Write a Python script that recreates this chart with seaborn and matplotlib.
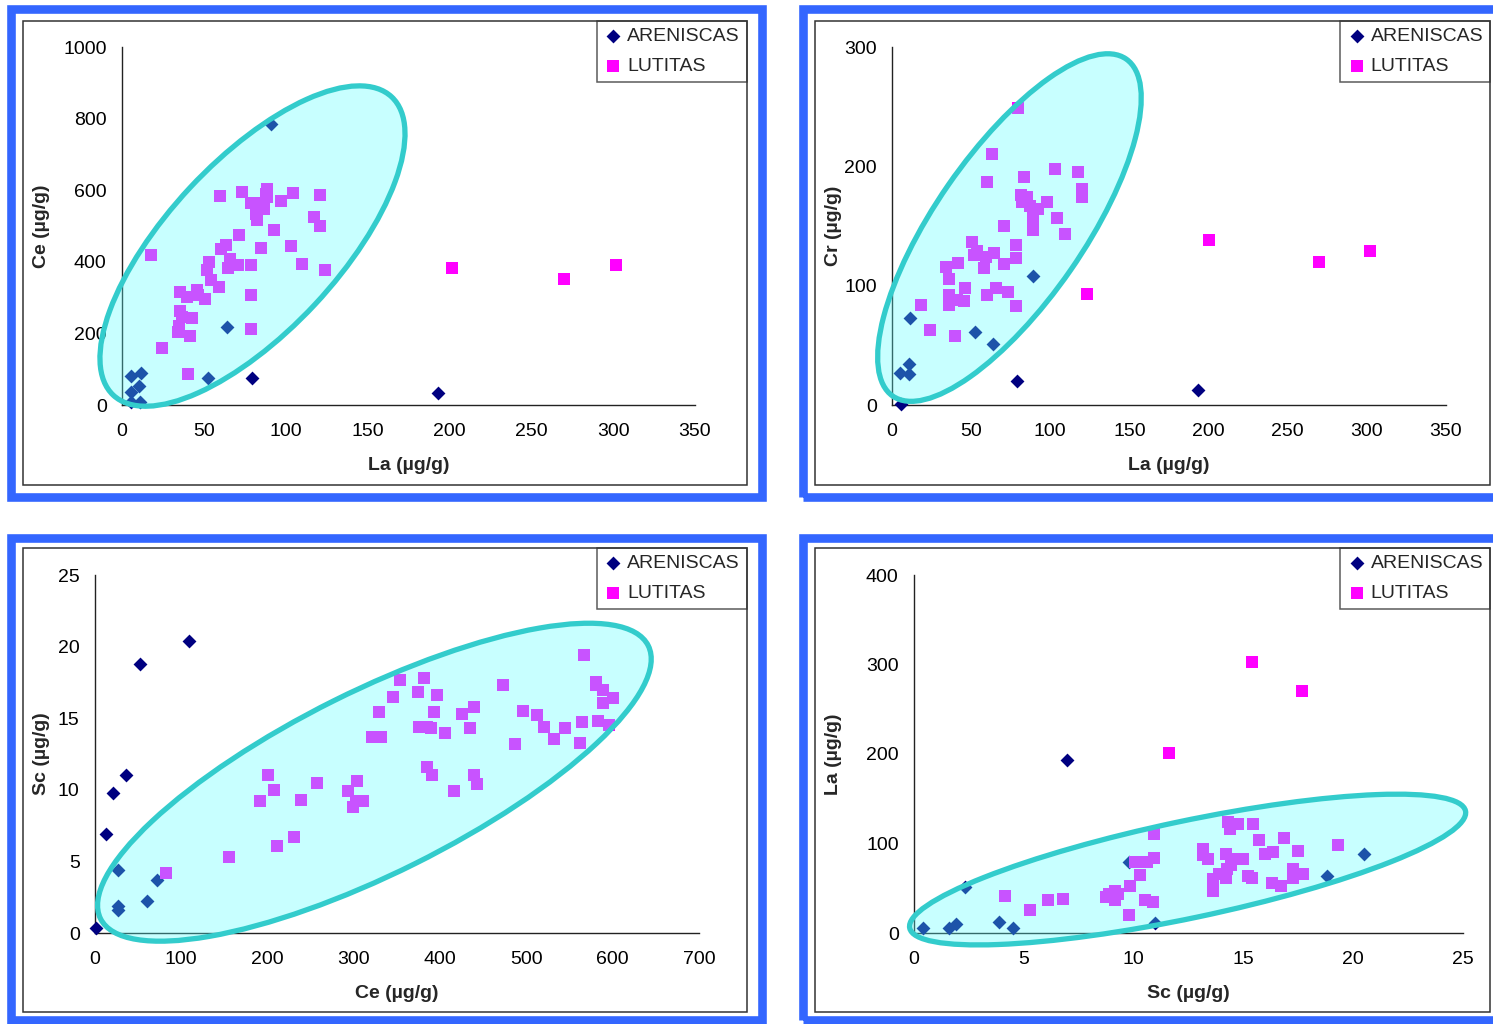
import numpy as np
import pandas as pd
import matplotlib
matplotlib.use("Agg")
import matplotlib.pyplot as plt
import matplotlib.transforms as mtransforms
from matplotlib.patches import Ellipse, Rectangle
import seaborn as sns

W, H = 1493, 1024

# ---- data: panel 1 (La vs Ce)
p1_aren_la = [5.7, 11.9, 10.5, 5.7, 5.7, 10.9, 52.5, 64.1, 79.5, 90.8, 193]
p1_aren_ce = [82, 89.5, 54, 35, 9, 9, 74.6, 217, 74.6, 786, 33.5]
p1_lut_la = [18.0, 60.0, 73.0, 88.7, 87.7, 88.7, 104.7, 120.7, 79.1, 83.6, 97.3, 82.0,
             82.6, 86.7, 117.0, 120.7, 92.6, 71.7, 63.7, 60.7, 84.6, 103.1, 66.2, 70.7,
             64.5, 78.9, 53.3, 51.8, 54.3, 59.0, 110.0, 124.2, 35.5, 39.5, 46.1, 46.7,
             50.8, 78.9, 35.5, 36.5, 42.6, 35.0, 34.4, 41.6, 78.9, 24.2, 40.2,
             201.6, 270, 301.7]
p1_lut_ce = [418, 584, 595, 604, 590, 581, 592, 587, 565, 565, 569, 534,
             516, 548, 525, 499, 488, 476, 446, 435, 439, 444, 408, 392,
             382, 390, 399, 376, 350, 331, 394, 378, 315, 301, 322, 308,
             297, 306, 262, 245, 242, 222, 203, 194, 211, 158, 87,
             383, 352, 391]

# ---- data: panel 2 (La vs Cr)
p2_aren_la = [11.2, 10.8, 5.3, 10.8, 5.5, 52.3, 63.9, 78.7, 89.2, 193.3]
p2_aren_cr = [72.7, 34.4, 26.9, 26, 0.8, 61, 51.2, 20.4, 108, 12.6]
p2_lut_la = [79.3, 63.3, 60.1, 83.5, 103, 117.7, 120, 120, 81.4, 85, 81.9, 87.1,
             92.4, 97.7, 88.8, 104, 70.9, 88.8, 109.3, 50.6, 78.3, 53.8, 51.9, 59.3,
             64.3, 78.3, 33.8, 41.8, 58, 70.7, 35.7, 46.4, 65.4, 73, 35.7, 35.7,
             41.1, 45.4, 60.1, 78.3, 18.6, 23.8, 40.1, 123, 200.3, 269.8, 302]
p2_lut_cr = [249, 210, 187, 191, 198, 195, 181, 174, 176, 174, 170, 167,
             164, 170, 157, 157, 150, 147, 143, 137, 134, 129, 126, 124,
             127, 123, 116, 119, 115, 118, 106, 98, 98, 95, 92, 84,
             88, 87, 92, 83, 84, 63, 58, 93.4, 138, 120, 129]

# ---- data: panel 3 (Ce vs Sc)
p3_aren_ce = [108.9, 52, 35.6, 20.9, 12.4, 26.7, 72.4, 60, 26.7, 26.7, 0.9]
p3_aren_sc = [20.4, 18.8, 11.0, 9.8, 6.9, 4.4, 3.7, 2.2, 1.9, 1.6, 0.35]
p3_lut_ce = [566.6, 580.9, 580.9, 588.9, 600, 588.9, 583, 595.5, 564.4, 562.2, 544.9,
             532.4, 520, 512, 495.5, 486.6, 472.4, 439.1, 425.8, 434.6, 405.8, 396.9,
             393.3, 388.9, 375.5, 384.4, 380.9, 374.2, 353.8, 345.3, 328.9, 320.9,
             331.1, 384.4, 391.1, 439.1, 443.1, 416, 303.5, 293.3, 302.2, 311.1,
             299.1, 257.8, 238.7, 200.9, 207.5, 190.7, 230.2, 211.5, 155.1, 82.7]
p3_lut_sc = [19.4, 17.5, 17.3, 17.0, 16.4, 16.05, 14.8, 14.5, 14.7, 13.3, 14.3,
             13.55, 14.4, 15.2, 15.5, 13.2, 17.3, 15.8, 15.3, 14.3, 14.0, 16.6,
             15.4, 14.3, 14.4, 14.4, 17.8, 16.8, 17.7, 16.5, 15.4, 13.7,
             13.7, 11.6, 11.0, 11.0, 10.4, 9.9, 10.6, 9.9, 9.2, 9.2,
             8.8, 10.5, 9.3, 11.0, 10.0, 9.2, 6.7, 6.05, 5.3, 4.2]

# ---- data: panel 4 (Sc vs La)
p4_aren_sc = [6.98, 20.5, 18.8, 9.8, 2.3, 0.4, 1.6, 1.9, 3.86, 4.5, 10.96]
p4_aren_la = [193.7, 88.8, 63.6, 78.8, 51.7, 5.2, 5.2, 10.4, 12.6, 5.2, 10.8]
p4_lut_sc = [15.37, 17.66, 11.6, 14.29, 14.77, 14.4, 15.45, 10.94, 15.7, 16.83, 19.3,
             17.5, 13.15, 13.15, 13.4, 14.2, 16.0, 16.35, 14.6, 15.0, 14.45, 14.25,
             13.9, 14.2, 13.6, 15.2, 15.4, 17.25, 17.25, 17.7, 16.3, 16.7, 13.6,
             10.94, 10.6, 10.06, 10.3, 9.82, 9.16, 9.16, 8.73, 10.5, 10.9, 9.8,
             6.77, 6.1, 5.3, 4.16, 9.3, 8.9]
p4_lut_la = [302.6, 270.6, 201.5, 124, 122, 116.7, 122, 111, 103.7, 105.6, 98,
             91.8, 93.7, 87, 82.5, 88.5, 88, 90, 82.5, 82.5, 75.8, 72,
             66, 61, 60.2, 64, 61, 72, 62, 66, 56, 53, 47,
             84, 78.8, 78.8, 64.7, 52.4, 47.2, 36.8, 39.8, 36.4, 34.2, 20.4,
             37.9, 36.4, 25.7, 41.6, 43.5, 43.5]

GROUPS = ["ARENISCAS", "LUTITAS"]
COLORS = {"ARENISCAS": "#000080", "LUTITAS": "#FF00FF"}
MARKERS = {"ARENISCAS": "D", "LUTITAS": "s"}
SIZES = {"ARENISCAS": 50, "LUTITAS": 72}

sns.set_style("white")
plt.rcParams["font.family"] = ["Liberation Sans", "DejaVu Sans"]
FS = 14

fig = plt.figure(figsize=(W / 100, H / 100), dpi=100)


def frac_rect(x0, y0, x1, y1):
    return (x0 / W, 1 - y1 / H, (x1 - x0) / W, (y1 - y0) / H)


def frame(x0, y0, x1, y1, color, lw):
    fig.add_artist(Rectangle(frac_rect(x0, y0, x1, y1)[:2], (x1 - x0) / W, (y1 - y0) / H,
                             transform=fig.transFigure, fill=False, ec=color, lw=lw))


def make_panel(box, frames, legend_corner, xcol, ycol, aren, lut, xlim, ylim, xticks, yticks,
               ell):
    x0, y0, x1, y1 = box
    # outer blue frame and inner black frame
    frame(*frames[0], "#3366FF", 6.2)
    frame(*frames[1], "#333333", 1.1)
    ax = fig.add_axes(frac_rect(x0, y0, x1, y1))
    ax.set_facecolor("none")
    df = pd.DataFrame({
        xcol: list(aren[0]) + list(lut[0]),
        ycol: list(aren[1]) + list(lut[1]),
        "tipo": ["ARENISCAS"] * len(aren[0]) + ["LUTITAS"] * len(lut[0]),
    })
    for g in GROUPS:
        sns.scatterplot(data=df[df["tipo"] == g], x=xcol, y=ycol, color=COLORS[g],
                        marker=MARKERS[g], s=SIZES[g], linewidth=0, label=g, ax=ax,
                        clip_on=False, zorder=3)
    # ellipse drawn in pixel units around a data-space centre
    cx, cy, ew, eh, ang = ell
    tr = fig.dpi_scale_trans + mtransforms.ScaledTranslation(cx, cy, ax.transData)
    ax.add_patch(Ellipse((0, 0), ew / 100, eh / 100, angle=ang, transform=tr,
                         facecolor=(0.35, 1, 1, 0.33), edgecolor="none", zorder=5,
                         clip_on=False))
    ax.add_patch(Ellipse((0, 0), ew / 100, eh / 100, angle=ang, transform=tr,
                         facecolor="none", edgecolor="#33CCCC", lw=3.8, zorder=6,
                         clip_on=False))
    ax.set_xlim(*xlim)
    ax.set_ylim(*ylim)
    ax.set_xticks(xticks)
    ax.set_yticks(yticks)
    for s in ["top", "right"]:
        ax.spines[s].set_visible(False)
    for s in ["left", "bottom"]:
        ax.spines[s].set_color("#222222")
        ax.spines[s].set_linewidth(1.0)
    ax.tick_params(axis="both", direction="out", length=4, width=1, color="#222222",
                   labelsize=FS, labelcolor="black")
    ax.tick_params(axis="x", pad=9)
    ax.tick_params(axis="y", pad=7)
    ax.set_xlabel(f"{xcol} (µg/g)", fontsize=FS, fontweight="bold")
    ax.set_ylabel(f"{ycol} (µg/g)", fontsize=FS, fontweight="bold")
    ax.xaxis.set_label_coords(0.5, -(457 - y1) / (y1 - y0) if y1 < 500 else -(985 - y1) / (y1 - y0))
    ax.yaxis.set_label_coords(-(x0 - (frames[1][0] + 27)) / (x1 - x0), 0.5)
    h, l = ax.get_legend_handles_labels()
    lx, ly = legend_corner
    leg = ax.legend(h, l, loc="upper right", bbox_to_anchor=(lx / W, 1 - ly / H),
                    bbox_transform=fig.transFigure, borderaxespad=0, frameon=True,
                    fancybox=False, edgecolor="#333333", fontsize=FS, handletextpad=0.2,
                    labelspacing=0.6, borderpad=0.35, handlelength=1.0, markerscale=1.0)
    leg.get_frame().set_linewidth(1.1)
    leg.set_zorder(10)
    return ax


make_panel((122, 47, 695, 405),
           [(11, 9, 762, 497), (23.5, 21, 746.5, 485)], (746.5, 21),
           "La", "Ce", (p1_aren_la, p1_aren_ce), (p1_lut_la, p1_lut_ce),
           (0, 350), (0, 1000), range(0, 351, 50), range(0, 1001, 200),
           (79.7, 444, 408, 171, 47))

make_panel((892, 47, 1446, 405),
           [(802.5, 9, 1500, 497), (815, 21, 1490, 485)], (1490, 21),
           "La", "Cr", (p2_aren_la, p2_aren_cr), (p2_lut_la, p2_lut_cr),
           (0, 350), (0, 300), range(0, 351, 50), range(0, 301, 100),
           (74.2, 148.7, 410, 149, 55.3))

make_panel((95, 575, 699, 933),
           [(11, 538, 762, 1020), (23.5, 548, 746.5, 1012)], (746.5, 548),
           "Ce", "Sc", (p3_aren_ce, p3_aren_sc), (p3_lut_ce, p3_lut_sc),
           (0, 700), (0, 25), range(0, 701, 100), range(0, 26, 5),
           (323.8, 10.53, 612, 182, 26.5))

make_panel((914, 575, 1463, 933),
           [(802.5, 538, 1500, 1020), (815, 548, 1490, 1012)], (1490, 548),
           "Sc", "La", (p4_aren_sc, p4_aren_la), (p4_lut_sc, p4_lut_la),
           (0, 25), (0, 400), range(0, 26, 5), range(0, 401, 100),
           (12.46, 70.9, 568, 97, 11.9))

fig.savefig("out.png", dpi=100)
